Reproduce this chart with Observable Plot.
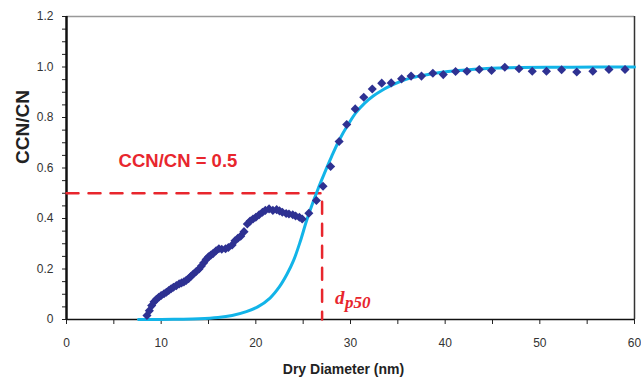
<!DOCTYPE html>
<html>
<head>
<meta charset="utf-8">
<script src="https://cdn.jsdelivr.net/npm/d3@7"></script>
<script src="https://cdn.jsdelivr.net/npm/@observablehq/plot@0.6"></script>
<style>
  html, body { margin: 0; padding: 0; background: #fff; }
  svg { display: block; }
</style>
</head>
<body>
<div id="chart"></div>
<script>
// Measured activation ratio (diamonds)
const measDiameter = [8.5, 8.75, 9.0, 9.25, 9.5, 9.75, 10.0, 10.3, 10.55, 10.8, 11.05, 11.3, 11.6, 11.9, 12.15, 12.4, 12.65, 12.9, 13.15, 13.4, 13.7, 14.0, 14.25, 14.5, 14.75, 15.0, 15.25, 15.5, 15.8, 16.1, 16.4, 16.8, 17.1, 17.5, 17.8, 18.1, 18.4, 18.75, 19.1, 19.4, 19.7, 20.0, 20.35, 20.7, 21.0, 21.4, 21.8, 22.2, 22.5, 22.8, 23.2, 23.5, 23.9, 24.2, 24.6, 24.9, 25.6, 26.4, 27.1, 27.9, 28.8, 29.6, 30.5, 31.4, 32.3, 33.3, 34.3, 35.4, 36.4, 37.5, 38.7, 39.8, 41.1, 42.3, 43.6, 44.9, 46.3, 47.8, 49.2, 50.7, 52.3, 53.9, 55.6, 57.3, 59.0];
const measRatio = [0.016, 0.035, 0.055, 0.07, 0.08, 0.088, 0.095, 0.102, 0.108, 0.115, 0.122, 0.128, 0.134, 0.141, 0.145, 0.149, 0.155, 0.162, 0.171, 0.18, 0.19, 0.2, 0.212, 0.225, 0.238, 0.248, 0.255, 0.262, 0.272, 0.28, 0.278, 0.28, 0.285, 0.295, 0.312, 0.322, 0.33, 0.348, 0.378, 0.39, 0.398, 0.405, 0.415, 0.425, 0.432, 0.438, 0.432, 0.435, 0.43, 0.425, 0.42, 0.418, 0.415, 0.41, 0.405, 0.398, 0.421, 0.471, 0.528, 0.606, 0.705, 0.772, 0.834, 0.88, 0.913, 0.936, 0.937, 0.953, 0.964, 0.964, 0.975, 0.97, 0.982, 0.983, 0.99, 0.986, 0.999, 0.993, 0.983, 0.983, 0.989, 0.98, 0.983, 0.99, 0.99];

// Fitted sigmoid (cyan line)
const fitDiameter = [7.6, 10, 12, 14, 16, 17.5, 19, 20.2, 21.5, 22.5, 23.3, 24.0, 24.7, 25.35, 26.0, 26.6, 27.2, 28.0, 28.8, 29.8, 30.6, 31.5, 32.4, 33.3, 34.2, 35.1, 36.5, 38.6, 40.3, 42.1, 44, 45.7, 48, 52, 56, 60];
const fitRatio    = [0, 0.0, 0.001, 0.003, 0.008, 0.016, 0.031, 0.05, 0.085, 0.13, 0.18, 0.235, 0.31, 0.39, 0.46, 0.52, 0.575, 0.645, 0.71, 0.775, 0.82, 0.857, 0.885, 0.907, 0.925, 0.94, 0.958, 0.973, 0.982, 0.988, 0.993, 0.996, 0.998, 0.999, 1.0, 1.0];

// Threshold annotation
const dp50 = 27;
const threshold = 0.5;
const thresholdLabel = "CCN/CN = 0.5";

// Axes
const xTicks = [0, 5, 10, 15, 20, 25, 30, 35, 40, 45, 50, 55, 60];
const xTickLabels = ["0", "", "10", "", "20", "", "30", "", "40", "", "50", "", "60"];
const yTicks = [0, 0.05, 0.1, 0.15, 0.2, 0.25, 0.3, 0.35, 0.4, 0.45, 0.5, 0.55, 0.6, 0.65, 0.7, 0.75, 0.8, 0.85, 0.9, 0.95, 1.0, 1.05, 1.1, 1.15, 1.2];
const yTickLabels = ["0", "", "", "", "0.2", "", "", "", "0.4", "", "", "", "0.6", "", "", "", "0.8", "", "", "", "1.0", "", "", "", "1.2"];
const xLabel = "Dry Diameter (nm)";
const yLabel = "CCN/CN";

const meas = measDiameter.map((d, i) => ({d, r: measRatio[i]}));
const fit = fitDiameter.map((d, i) => ({d, r: fitRatio[i]}));
const guide = [{d: 0, r: threshold}, {d: dp50, r: threshold}, {d: dp50, r: 0}];

const RED = "#e8262d";
const NAVY = "#2e3192";
const CYAN = "#12b4e8";
const FONT = "Liberation Sans, Arial, sans-serif";

const chart = Plot.plot({
  width: 641,
  height: 382,
  marginLeft: 66,
  marginRight: 7,
  marginTop: 16,
  marginBottom: 63,
  style: {fontFamily: FONT, fontSize: "12px", color: "#333", background: "#fff"},
  x: {domain: [0, 60]},
  y: {domain: [0, 1.2]},
  marks: [
    Plot.axisX({ticks: xTicks, tickFormat: (d) => xTickLabels[xTicks.indexOf(d)], tickSize: 5, tickPadding: 14, label: null, stroke: "#222", fill: "#333", fontSize: 12}),
    Plot.axisY({ticks: yTicks, tickFormat: (d, i) => yTickLabels[i], tickSize: 4, tickPadding: 9, label: null, stroke: "#222", fill: "#333", fontSize: 12}),
    Plot.ruleY([1.2], {stroke: "#999", strokeWidth: 1.5}),
    Plot.ruleX([60], {stroke: "#333", strokeWidth: 1.5}),
    Plot.ruleY([0], {stroke: "#111", strokeWidth: 1.5}),
    Plot.ruleX([0], {stroke: "#111", strokeWidth: 2.5}),
    Plot.line(guide, {x: "d", y: "r", stroke: RED, strokeWidth: 2.5, strokeDasharray: "12,10"}),
    Plot.line(fit, {x: "d", y: "r", stroke: CYAN, strokeWidth: 3, curve: "catmull-rom"}),
    Plot.dot(meas, {x: "d", y: "r", symbol: "diamond2", r: 4.1, fill: NAVY, stroke: "none"}),
    Plot.text([thresholdLabel], {x: 5.5, y: 0.626, text: d => d, textAnchor: "start", fill: RED, fontSize: 18.5, fontWeight: "bold", fontFamily: FONT}),
    Plot.text(["d"], {x: dp50, y: 0.063, text: d => d, textAnchor: "start", dx: 13, fill: RED, fontSize: 19, fontStyle: "italic", fontWeight: "bold", fontFamily: "Liberation Serif, Times New Roman, serif", lineAnchor: "bottom"}),
    Plot.text(["p50"], {x: dp50, y: 0.063, text: d => d, textAnchor: "start", dx: 23, dy: 4, fill: RED, fontSize: 17, fontStyle: "italic", fontWeight: "bold", fontFamily: "Liberation Serif, Times New Roman, serif", lineAnchor: "bottom"}),
    Plot.text([xLabel], {frameAnchor: "bottom", text: d => d, dy: 54, dx: -7, fill: "#222", fontSize: 14, fontWeight: "bold", fontFamily: FONT}),
    Plot.text([yLabel], {frameAnchor: "left", text: d => d, dx: -44, dy: -4, rotate: -90, fill: "#222", fontSize: 19, fontWeight: "bold", fontFamily: FONT})
  ]
});
document.getElementById("chart").appendChild(chart);
</script>
</body>
</html>
